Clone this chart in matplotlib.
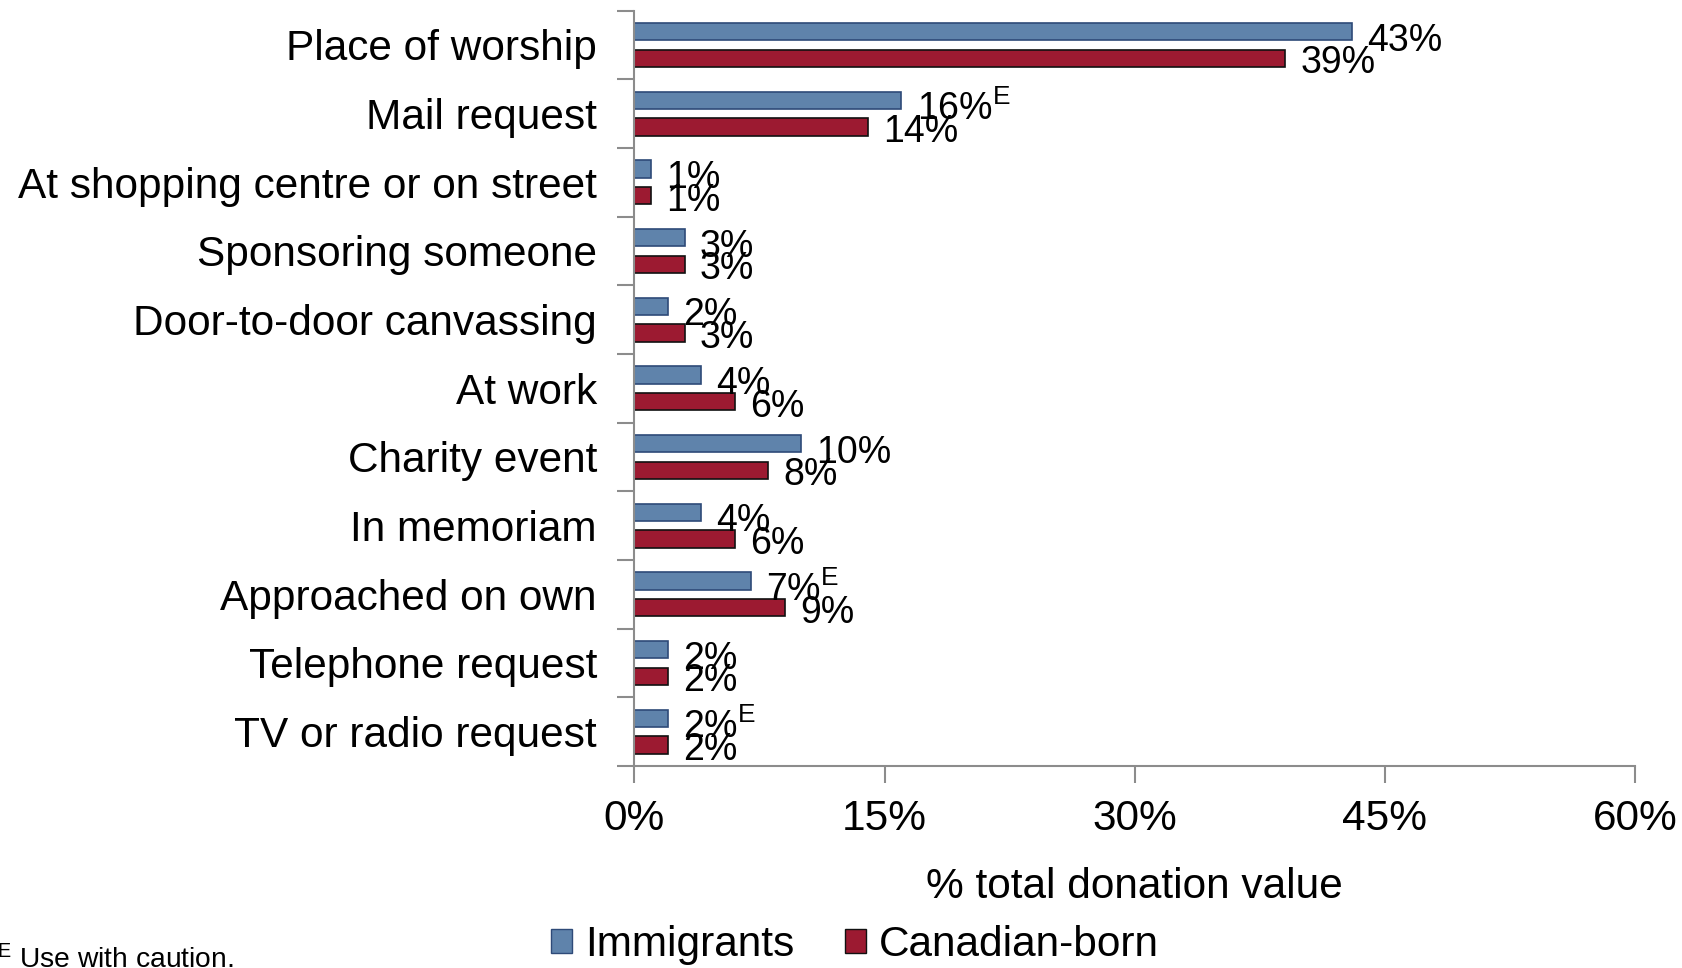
import numpy as np
import matplotlib
matplotlib.use("Agg")
import matplotlib.pyplot as plt
from matplotlib.patches import Patch

plt.rcParams['font.family'] = ['Liberation Sans', 'DejaVu Sans']
plt.rcParams['mathtext.fontset'] = 'custom'
plt.rcParams['mathtext.rm'] = 'Liberation Sans'
plt.rcParams['mathtext.it'] = 'Liberation Sans'

# categories top to bottom
categories = ["Place of worship", "Mail request", "At shopping centre or on street",
              "Sponsoring someone", "Door-to-door canvassing", "At work",
              "Charity event", "In memoriam", "Approached on own",
              "Telephone request", "TV or radio request"]
immigrants = [43, 16, 1, 3, 2, 4, 10, 4, 7, 2, 2]
canadian = [39, 14, 1, 3, 3, 6, 8, 6, 9, 2, 2]
# "use with caution" flags for immigrant estimates
imm_flag = [False, True, False, False, False, False, False, False, True, False, True]
can_flag = [False] * 11

xticks = [0, 15, 30, 45, 60]

blue = "#5F83AB"
blue_edge = "#2E4A78"
red = "#9C1A31"
red_edge = "#111111"
grey = "#8C8C8C"

fig = plt.figure(figsize=(16.83, 9.68), dpi=100)
ax = fig.add_axes([0.377, 0.2087, 0.5945, 0.7803])

n = len(categories)
y = np.arange(n)
off = 0.195
h = 0.25

ax.barh(y - off, immigrants, height=h, color=blue, edgecolor=blue_edge, linewidth=1.2)
ax.barh(y + off, canadian, height=h, color=red, edgecolor=red_edge, linewidth=1.2)

def lab(v, flag):
    s = f"{v}%"
    if flag:
        s += r"$^{\mathrm{E}}$"
    return s

for i in range(n):
    ax.annotate(lab(immigrants[i], imm_flag[i]), xy=(immigrants[i], y[i] - off),
                xytext=(11, -6.5), textcoords="offset points",
                ha="left", va="center", fontsize=27)
    ax.annotate(lab(canadian[i], can_flag[i]), xy=(canadian[i], y[i] + off),
                xytext=(11, -3.5), textcoords="offset points",
                ha="left", va="center", fontsize=27)

ax.set_ylim(n - 0.5, -0.5)
ax.set_xlim(0, 60)
ax.set_yticks(np.arange(n + 1) - 0.5)
ax.set_yticklabels([])
ax.set_yticks(y, minor=True)
ax.set_yticklabels(categories, minor=True, fontsize=30.5)
ax.tick_params(axis="y", which="minor", length=0, pad=27)
ax.tick_params(axis="y", which="major", length=12, width=1.5, color=grey, direction="out")

ax.set_xticks(xticks)
ax.set_xticklabels([f"{t}%" for t in xticks], fontsize=30.5)
ax.tick_params(axis="x", length=12, width=1.5, color=grey, direction="out", pad=12)
ax.set_xlabel("% total donation value", fontsize=30.5, labelpad=20)

for s in ["top", "right"]:
    ax.spines[s].set_visible(False)
for s in ["left", "bottom"]:
    ax.spines[s].set_color(grey)
    ax.spines[s].set_linewidth(1.5)

handles = [Patch(facecolor=blue, edgecolor=blue_edge, label="Immigrants"),
           Patch(facecolor=red, edgecolor=red_edge, label="Canadian-born")]
fig.legend(handles=handles, loc="center", bbox_to_anchor=(0.508, 0.024), ncol=2,
           frameon=False, fontsize=30.5, handlelength=0.5, handleheight=0.5,
           handletextpad=0.3, columnspacing=1.2)

fig.text(-0.002, 0.009, r"$^{\mathrm{E}}$ Use with caution.", fontsize=20.3, ha="left", va="center")

fig.savefig("out.png", dpi=100)
